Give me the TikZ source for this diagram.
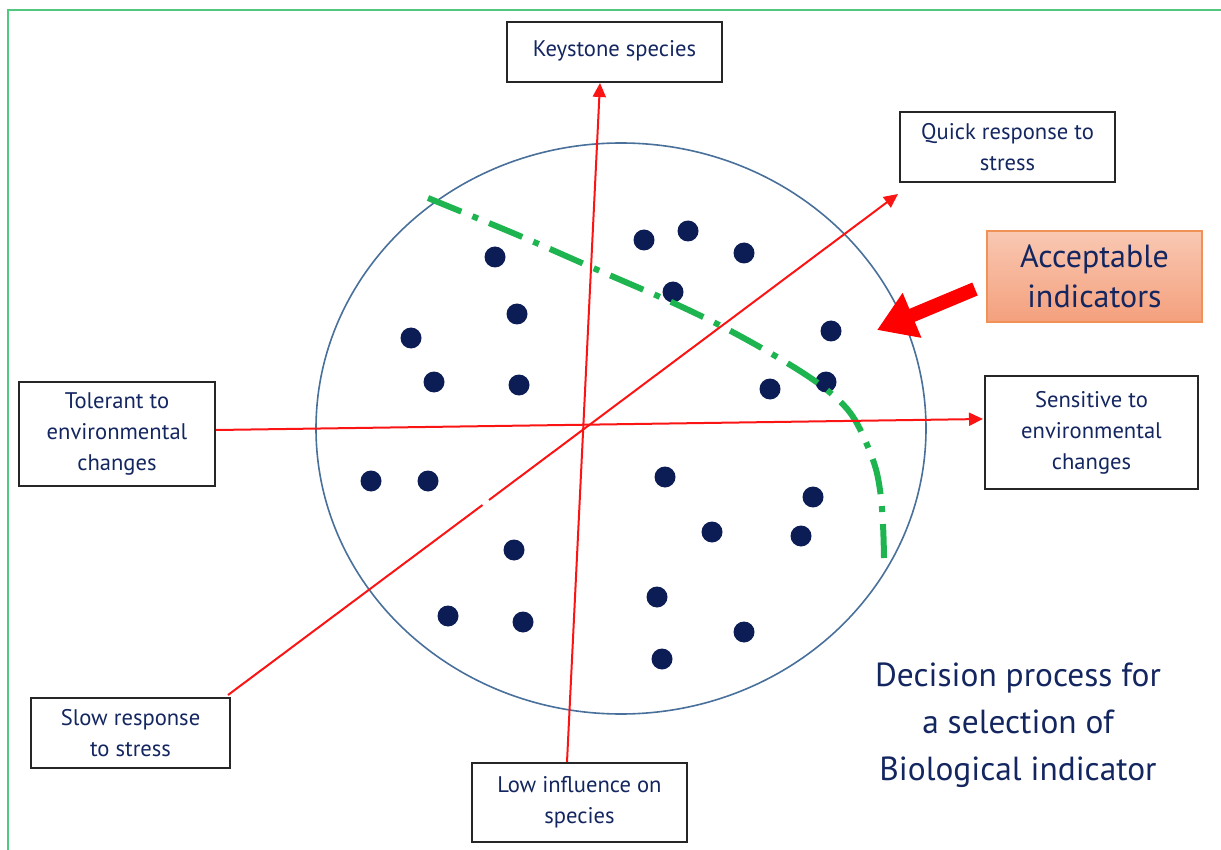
\documentclass[tikz,border=0pt]{standalone}
\usepackage{fontspec}
\setmainfont{PT Sans}
\usetikzlibrary{arrows.meta,shapes.geometric}
\definecolor{navy}{RGB}{20,38,96}
\definecolor{dotblue}{RGB}{12,28,84}
\definecolor{axisred}{RGB}{250,20,20}
\definecolor{framegreen}{RGB}{80,200,125}
\definecolor{circleblue}{RGB}{72,112,155}
\definecolor{curvegreen}{RGB}{30,180,80}
\definecolor{accborder}{RGB}{240,145,85}
\definecolor{acctop}{RGB}{249,200,178}
\definecolor{accbot}{RGB}{244,160,125}
\tikzset{
  labelbox/.style={draw=black!85, line width=1pt, inner sep=0pt, align=center, text=navy,
    font=\fontsize{11.3}{15.5}\selectfont},
  axis/.style={draw=axisred, line width=1pt},
  axisarrow/.style={axis, -{Triangle[length=7pt,width=6.5pt]}},
  spot/.style={circle, fill=dotblue, minimum size=10.5pt, inner sep=0pt},
}
\begin{document}
\begin{tikzpicture}[x=0.5pt,y=-0.5pt]
\useasboundingbox (0,0) rectangle (1221,850);
% frame
\draw[framegreen, line width=1pt] (8,850) -- (8,10) -- (1221,10);
% circle
\node[ellipse, draw=circleblue, line width=0.8pt, minimum width=305pt, minimum height=285.5pt, inner sep=0pt] (disc) at (621,428.5) {};
% dots
\foreach \px/\py [count=\i] in {495/257,644/240,688/231,744/253,517/314,673/292,831/331,411/338,434/382,519/385,770/389,826/382,371/481,428/481,665/477,813/497,712/532,801/536,514/550,657/597,448/616,523/622,744/632,662/659}
  \node[spot] (d\i) at (\px,\py) {};
% green dash-dot curve
\draw[curvegreen, line width=3pt, dash pattern=on 18pt off 6pt on 3pt off 6pt]
  plot[smooth, tension=0.6] coordinates {(428,198) (520,236) (600,271) (680,306) (740,336) (800,371) (834,396) (855,420) (873,460) (880,490) (883,525) (884,558)};
% boxes
\node[labelbox, minimum width=107.5pt, minimum height=30pt] (key) at (614.5,52) {\raisebox{3pt}{Keystone species}};
\node[labelbox, minimum width=107.5pt, minimum height=35pt] (quick) at (1007.5,147) {Quick response to\\stress};
\node[labelbox, minimum width=98pt, minimum height=52pt] (tol) at (117,434) {Tolerant to\\environmental\\changes};
\node[labelbox, minimum width=106.5pt, minimum height=56.5pt] (sens) at (1091.5,432.5) {Sensitive to\\environmental\\changes};
\node[labelbox, minimum width=99.5pt, minimum height=35pt] (slow) at (130.5,733) {Slow response\\to stress};
\node[labelbox, minimum width=107.5pt, minimum height=39.5pt] (low) at (579.5,802.5) {Low influence on\\species};
\node[draw=accborder, line width=0.8pt, top color=acctop, bottom color=accbot, minimum width=107.5pt, minimum height=45.5pt, inner sep=0pt, align=center, text=navy, font=\fontsize{16}{20}\selectfont] (acc) at (1094.5,276.5) {Acceptable\\indicators};
% axes
\coordinate (vtop) at (600,83);
\coordinate (vbot) at (567,762);
\coordinate (hleft) at (216,430);
\coordinate (hright) at (983,419);
\coordinate (dstart) at (228,695);
\coordinate (dgapa) at (482.5,505);
\coordinate (dgapb) at (489,500);
\coordinate (dtip) at (898,194);
\draw[axisarrow] (vbot) -- (vtop);
\draw[axisarrow] (hleft) -- (hright);
\draw[axis] (dstart) -- (dgapa);
\draw[axisarrow] (dgapb) -- (dtip);
% big red arrow
\coordinate (bigtail) at (975,289);
\coordinate (bigtip) at (877,330);
\draw[red, line width=7pt, -{Triangle[length=19pt,width=23pt]}] (bigtail) -- (bigtip);
% title
\node[text=navy, align=center, font=\fontsize{16.7}{23.5}\selectfont] (title) at (1018,725) {Decision process for\\a selection of\\Biological indicator};
\end{tikzpicture}
\end{document}
